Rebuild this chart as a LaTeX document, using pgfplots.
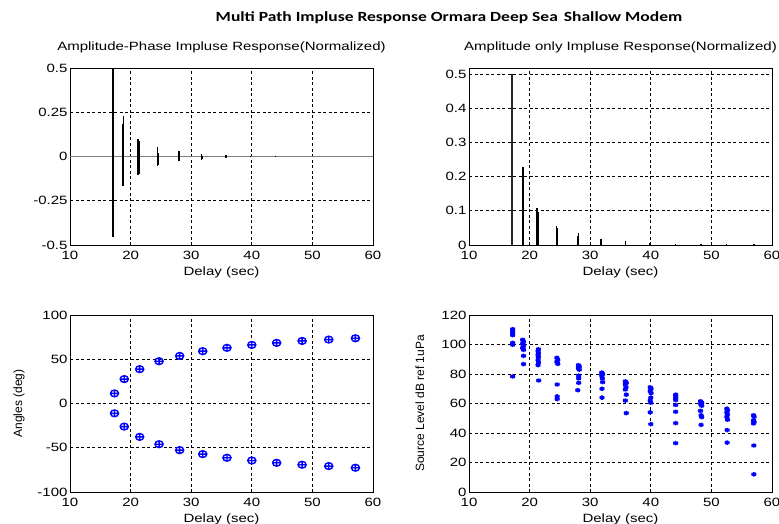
\documentclass[border=0pt]{standalone}
\usepackage{pgfplots}
\pgfplotsset{compat=1.18}
\usepackage{fontspec}
\setmainfont{Liberation Sans}[FakeStretch=1.25]
\newfontfamily\ylabfont{Liberation Sans}
\newfontfamily\titlefont{Carlito}[FakeStretch=1.25]

% ---------------- data ----------------
% angle of each arrival (deg): upper and lower branch
\pgfplotstableread{
x      up     lo
17.35  11.4  -11.1
18.95  27.6  -26.1
21.50  38.8  -37.7
24.70  47.8  -46.0
28.10  53.8  -52.7
31.90  59.1  -57.2
35.90  62.9  -61.3
40.00  66.2  -64.4
44.10  68.5  -67.0
48.30  70.7  -69.2
52.70  72.2  -70.7
57.10  73.7  -72.6
}\angles

\pgfplotsset{
  matlab/.style={
    scale only axis, width=303pt, height=177pt,
    xmin=10, xmax=60, xtick={10,20,30,40,50,60},
    grid=major,
    major grid style={black, line width=0.7pt, dash pattern=on 3pt off 2.5pt},
    axis line style={black, line width=0.9pt},
    major tick length=0pt, minor tick num=0,
    tick label style={font=\fontsize{12}{14}\selectfont},
    /pgf/number format/assume math mode=true,
    xticklabel style={yshift=-3pt},
    yticklabel style={xshift=1pt},
    xlabel={Delay (sec)},
    xlabel style={font=\fontsize{12}{14}\selectfont,
      at={(axis description cs:0.5,0)}, anchor=base, yshift=-30pt},
    title style={font=\fontsize{12}{14}\selectfont,
      at={(axis description cs:0.5,1)}, anchor=base, yshift=11pt, inner sep=0pt},
    ylabel style={font=\ylabfont\fontsize{12}{14}\selectfont, anchor=base},
  }
}

\begin{document}
\begin{tikzpicture}[x=1pt,y=1pt]
\useasboundingbox (0,0) rectangle (779,523);

\node[font=\titlefont\bfseries\fontsize{14}{16}\selectfont, anchor=base]
  at (449,501) {Multi Path Impluse Response Ormara Deep Sea\hspace{6pt}Shallow Modem};

% ---- amplitude-phase impulse response ----
\begin{axis}[matlab, at={(70pt,278pt)}, anchor=south west,
  ymin=-0.5, ymax=0.5, ytick={-0.5,-0.25,0,0.25,0.5},
  title={Amplitude-Phase Impluse Response(Normalized)}]
\addplot[black!50, line width=1.8pt] coordinates {(10,0) (60,0)};
\addplot[ycomb, black, line width=1.1pt] coordinates {(17.10,0.500)};
\addplot[ycomb, black, line width=1.1pt] coordinates {(17.10,-0.452)};
\addplot[ycomb, black, line width=1.5pt] coordinates {
 (18.65,0.186) (18.72,0.186) (18.85,0.226)
 (21.20,0.100) (21.35,0.088) (21.42,0.085)
 (24.40,0.052) (24.52,0.020) (27.90,0.005) (28.02,0.031)
 (31.70,0.015) (35.75,0.010) (39.80,0.005) (43.90,0.003)};
\addplot[ycomb, black, line width=1.5pt] coordinates {
 (18.65,-0.166) (18.72,-0.166)
 (21.20,-0.107) (21.35,-0.098) (21.42,-0.098)
 (24.40,-0.055) (24.52,-0.050) (27.90,-0.028) (28.02,-0.025)
 (31.70,-0.020) (31.78,-0.012) (35.75,-0.010) (39.80,-0.004) (43.90,-0.002)};
\end{axis}

% ---- amplitude only impulse response ----
\begin{axis}[matlab, at={(469pt,278pt)}, anchor=south west,
  ymin=0, ymax=0.518, ytick={0,0.1,0.2,0.3,0.4,0.5},
  title={Amplitude only Impluse Response(Normalized)}]
\addplot[ycomb, black!85, line width=1.7pt] coordinates {(17.14,0.5)};
\addplot[ycomb, black, line width=1.5pt] coordinates {
 (18.80,0.190) (18.95,0.227) (21.20,0.109) (21.40,0.0975)
 (24.40,0.0556) (24.60,0.050) (27.90,0.026) (28.10,0.034)
 (31.75,0.018) (31.85,0.017) (35.80,0.011) (39.90,0.006)
 (44.10,0.004) (48.30,0.003) (52.50,0.003) (57.00,0.003)};
\end{axis}

% ---- arrival angles ----
\begin{axis}[matlab, at={(70pt,31pt)}, anchor=south west,
  ymin=-100, ymax=100, ytick={-100,-50,0,50,100},
  ylabel={Angles (deg)},
  ylabel style={at={(axis description cs:-0.158,0.5)}}]
\addplot[only marks, mark=oplus, blue, line width=1.4pt, mark size=3.4pt,
  mark options={xscale=1.2}] table[x=x, y=up] {\angles};
\addplot[only marks, mark=oplus, blue, line width=1.4pt, mark size=3.4pt,
  mark options={xscale=1.2}] table[x=x, y=lo] {\angles};
\end{axis}

% ---- source level of each arrival ----
\begin{axis}[matlab, at={(469pt,31pt)}, anchor=south west,
  ymin=0, ymax=120, ytick={0,20,40,60,80,100,120},
  ylabel={Source Level dB ref 1uPa},
  ylabel style={at={(axis description cs:-0.1485,0.5)}}]
\addplot[only marks, mark=asterisk, blue, line width=1.6pt, mark size=2.2pt,
  mark options={xscale=1.2}] coordinates {
 (17.20,110.4) (17.20,109.0) (17.20,107.7) (17.20,106.3) (17.20,101.1) (17.20,99.8) (17.20,78.3)
 (18.85,103.2) (19.00,101.8) (18.85,100.5) (19.00,99.1) (18.85,97.7) (19.00,96.4) (19.00,92.3) (19.00,86.7)
 (21.45,96.8) (21.40,95.5) (21.45,94.1) (21.40,92.8) (21.45,91.4) (21.40,89.6) (21.45,87.8) (21.40,86.0) (21.50,75.6)
 (24.50,91.0) (24.65,89.6) (24.50,88.3) (24.65,86.9) (24.55,72.9) (24.55,64.8) (24.55,63.0)
 (28.05,86.0) (28.20,85.0) (28.05,84.0) (28.20,83.0) (28.10,79.0) (28.10,77.0) (28.10,74.0) (27.95,69.0)
 (31.90,81.0) (32.05,80.0) (31.90,79.0) (32.00,77.0) (32.05,74.5) (31.95,70.0) (31.95,64.0)
 (35.80,75.0) (35.95,74.0) (35.80,73.0) (35.90,71.0) (35.80,69.5) (35.95,66.0) (35.80,62.0) (35.95,53.5)
 (39.90,71.0) (40.05,70.0) (39.90,68.5) (40.05,67.0) (40.00,64.0) (39.90,62.0) (40.00,60.5) (39.90,54.0) (40.00,46.0)
 (44.10,66.0) (44.10,65.0) (44.10,63.6) (44.10,62.3) (44.10,59.0) (44.10,54.4) (44.10,46.7) (44.10,33.1)
 (48.20,61.5) (48.40,60.5) (48.25,59.5) (48.40,58.5) (48.20,55.0) (48.30,52.0) (48.40,50.8) (48.30,45.5)
 (52.55,56.5) (52.65,55.5) (52.55,54.0) (52.65,52.5) (52.55,51.0) (52.65,49.0) (52.60,42.0) (52.60,33.5)
 (56.95,52.0) (57.05,51.0) (56.95,48.5) (57.05,47.5) (56.95,46.5) (57.00,31.5) (57.00,12.0)};
\end{axis}
\end{tikzpicture}
\end{document}
